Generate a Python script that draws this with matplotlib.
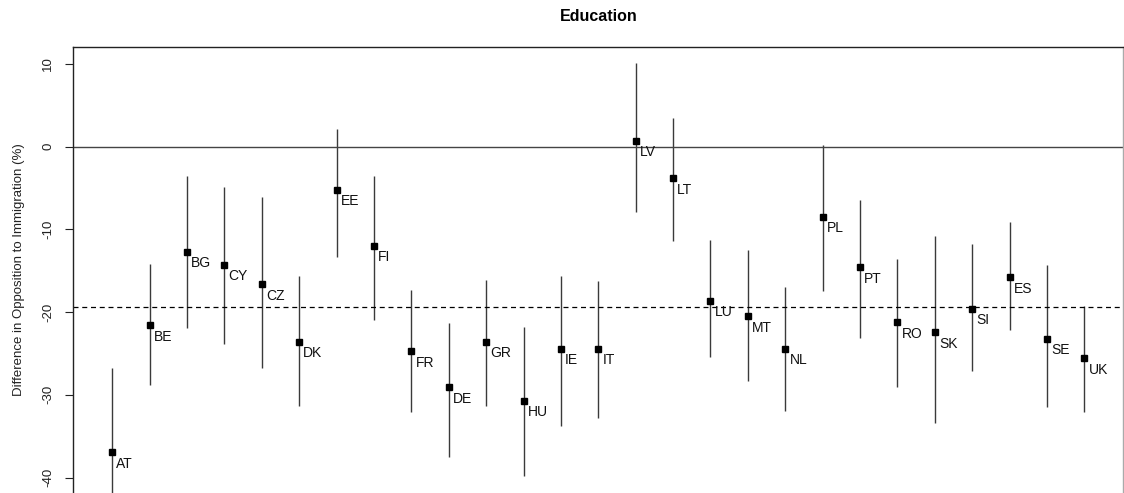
import matplotlib
matplotlib.use("Agg")
import matplotlib.pyplot as plt
import numpy as np

plt.rcParams['font.family'] = ['Liberation Sans', 'DejaVu Sans']

# Country effects with confidence intervals (percentage points)
paises = ['AT', 'BE', 'BG', 'CY', 'CZ', 'DK', 'EE', 'FI', 'FR', 'DE', 'GR', 'HU', 'IE', 'IT',
          'LV', 'LT', 'LU', 'MT', 'NL', 'PL', 'PT', 'RO', 'SK', 'SI', 'ES', 'SE', 'UK']
etki = [-36.9, -21.6, -12.7, -14.3, -16.6, -23.6, -5.2, -12.0, -24.7, -29.1, -23.6, -30.7, -24.4, -24.4,
        0.7, -3.8, -18.6, -20.5, -24.4, -8.5, -14.6, -21.2, -22.4, -19.6, -15.8, -23.2, -25.6]
alt_sinir = [-43.5, -28.8, -21.9, -23.9, -26.7, -31.3, -13.3, -20.9, -32.1, -37.5, -31.3, -39.8, -33.8, -32.8,
             -7.9, -11.4, -25.4, -28.3, -31.9, -17.5, -23.1, -29.1, -33.4, -27.1, -22.2, -31.5, -32.1]
ust_sinir = [-26.8, -14.2, -3.5, -4.9, -6.1, -15.6, 2.1, -3.5, -17.3, -21.3, -16.1, -21.8, -15.6, -16.3,
             10.1, 3.4, -11.3, -12.5, -17.0, 0.2, -6.4, -13.6, -10.8, -11.8, -9.1, -14.3, -19.3]
ortalama = -19.4

W, H = 1124, 493
fig = plt.figure(figsize=(W / 100, H / 100), dpi=100)

# plot region in pixels: left 73.3, right 1123.3, top 47.3, bottom ~498
ax_sol, ax_sag, ax_ust, ax_alt = 73.3, 1123.3, 47.3, 498.3
ax = fig.add_axes([ax_sol / W, (H - ax_alt) / H, (ax_sag - ax_sol) / W, (ax_alt - ax_ust) / H])

x = np.arange(1, len(paises) + 1)
ax.vlines(x, alt_sinir, ust_sinir, color='#3a3a3a', lw=1.0)
ax.plot(x, etki, 's', color='black', markersize=4.4, zorder=3)
for xi, yi, p in zip(x, etki, paises):
    ax.annotate(p, (xi, yi), xytext=(3, -11.2), textcoords='offset points',
                ha='left', va='baseline', fontsize=10, color='#111111')

ax.axhline(0, color='#444444', lw=1.0)
ax.axhline(ortalama, color='black', lw=0.9, ls=(0, (4, 3)))

ax.set_xlim(-0.04, 28.04)
ax.set_ylim(-42.5, 12.0)
ax.set_yticks([10, 0, -10, -20, -30, -40])
ax.set_yticklabels(['10', '0', '-10', '-20', '-30', '-40'], rotation=90, va='center')
ax.tick_params(axis='y', length=5.8, width=0.8, pad=8, labelsize=9.5, colors='#222222')
ax.set_xticks([])

for s in ['left', 'top']:
    ax.spines[s].set_color('#222222')
    ax.spines[s].set_linewidth(1.0)
ax.spines['right'].set_color('#aaaaaa')
ax.spines['right'].set_linewidth(1.0)
ax.spines['bottom'].set_visible(False)

ax.set_title('Education', fontsize=11.5, fontweight='bold', pad=19)
fig.text(19 / W, 1 - 270 / H, 'Difference in Opposition to Immigration (%)',
         rotation=90, ha='center', va='center', fontsize=9.5, color='#222222')

fig.savefig('out.png', dpi=100)
